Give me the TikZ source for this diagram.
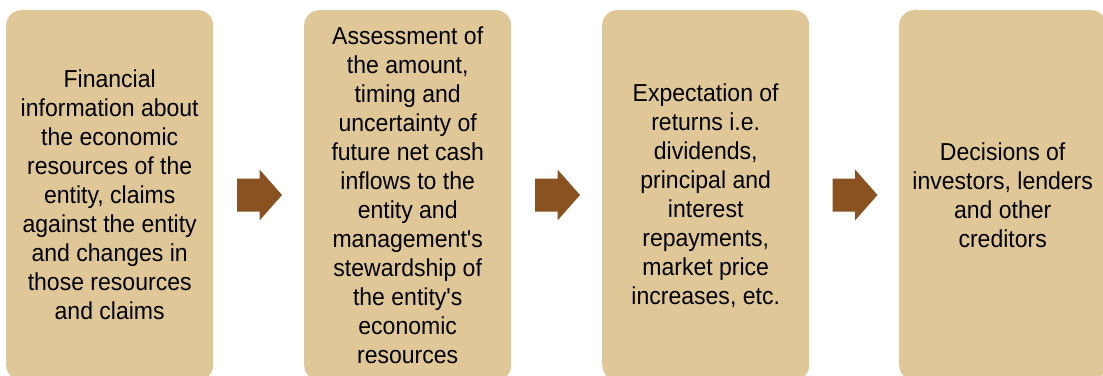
\documentclass[tikz,border=0pt]{standalone}
\usepackage{fontspec}
\setmainfont{Liberation Sans}[Ligatures=TeXOff, FakeStretch=0.94]
\definecolor{boxfill}{RGB}{224,199,151}
\definecolor{arrowcol}{RGB}{138,81,33}
\tikzset{
  stagebox/.style={fill=boxfill, draw=none, rounded corners=15pt, anchor=north west,
    minimum width=207pt, minimum height=370pt, inner sep=0pt,
    align=center, text=black, font=\fontsize{24.5}{29}\selectfont},
  blockarrow/.pic={\fill[arrowcol] (-22.5,-16.5) -- (0,-16.5) -- (0,-25.5) -- (22.5,0) -- (0,25.5) -- (0,16.5) -- (-22.5,16.5) -- cycle;}
}
\begin{document}
\begin{tikzpicture}[x=1pt,y=-1pt]
\useasboundingbox (0,0) rectangle (1103,375);
\begin{scope}
\clip (0,0) rectangle (1103,375);
\node[stagebox] (b1) at (6,10) {Financial\\information about\\the economic\\resources of the\\entity, claims\\against the entity\\and changes in\\those resources\\and claims};
\node[stagebox] (b2) at (304,10) {Assessment of\\the amount,\\timing and\\uncertainty of\\future net cash\\inflows to the\\entity and\\management's\\stewardship of\\the entity's\\economic\\resources};
\node[stagebox] (b3) at (602,10) {Expectation of\\returns i.e.\\dividends,\\principal and\\interest\\repayments,\\market price\\increases, etc.};
\node[stagebox] (b4) at (899,10) {Decisions of\\investors, lenders\\and other\\creditors};
\end{scope}
\coordinate (a1) at (259.5,195);
\coordinate (a2) at (557.5,195);
\coordinate (a3) at (855,195);
\pic at (a1) {blockarrow};
\pic at (a2) {blockarrow};
\pic at (a3) {blockarrow};
\end{tikzpicture}
\end{document}
